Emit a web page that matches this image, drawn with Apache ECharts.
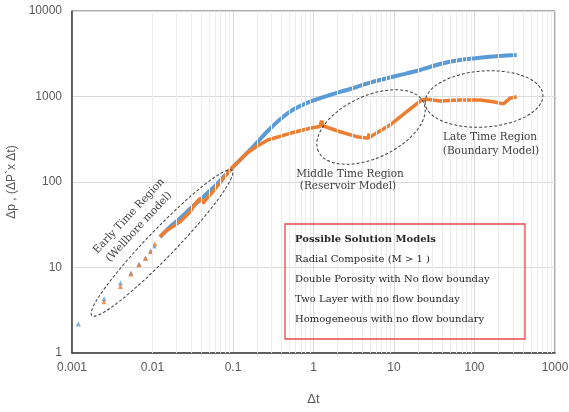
<!DOCTYPE html>
<html>
<head>
<meta charset="utf-8">
<script src="https://cdn.jsdelivr.net/npm/echarts@6/dist/echarts.min.js"></script>
<style>
  html, body { margin: 0; padding: 0; background: #fff; }
  #chart { width: 569px; height: 412px; }
</style>
</head>
<body>
<div id="chart"></div>
<script>
// early, sparse samples (drawn as single triangles)
const blueEarlyX = [0.0012, 0.0025, 0.004, 0.0054, 0.0068, 0.0082, 0.0095, 0.0105]
const blueEarlyY = [2.18, 4.3, 6.6, 8.6, 10.9, 12.9, 15.7, 17.9]
const orangeEarlyX = [0.0025, 0.004, 0.0054, 0.0068, 0.0082, 0.0095, 0.0107]
const orangeEarlyY = [3.98, 6.0, 8.4, 10.8, 12.8, 15.3, 19.0]

// dense part: pressure change (blue)
const blueX = [0.0124, 0.0165, 0.022, 0.0292, 0.0389, 0.0598, 0.0918, 0.163, 0.288, 0.511, 0.905, 1.6, 2.84, 5.53, 14.4, 21, 37.3, 66, 117, 207, 334]
const blueY = [22.7, 29.8, 37.6, 48.3, 61.5, 89.8, 138, 237, 420, 664, 869, 1042, 1224, 1490, 1867, 2042, 2399, 2673, 2845, 2978, 3057]

// dense part: derivative (orange)
const orangeX = [0.0124, 0.0143, 0.0165, 0.022, 0.0292, 0.0337, 0.0389, 0.0424, 0.0598, 0.0918, 0.148, 0.2, 0.27, 0.511, 0.905, 1.2, 1.26, 1.32, 1.6, 2.13, 3.44, 4.8, 4.9, 5.0, 5.53, 8.91, 14.4, 22.1, 25.5, 37.3, 66, 117, 171, 228, 276, 334]
const orangeY = [22.9, 26.2, 28.7, 34.3, 44.6, 55.3, 64.5, 56.8, 82.8, 138, 217, 264, 310, 371, 425, 445, 520, 455, 425, 387, 339, 324, 370, 330, 355, 464, 664, 910, 928, 886, 910, 910, 869, 820, 953, 995]

const boxLines = [
  'Radial Composite (M > 1 )',
  'Double Porosity with No flow bounday',
  'Two Layer with no flow bounday',
  'Homogeneous with no flow boundary'
]

// minor grid lines 2..9 of every decade on x
const minorX = []
for (let d = 0.001; d < 1000; d *= 10) {
  for (let k = 2; k <= 9; k++) minorX.push(+(d * k).toPrecision(3))
}

const pairs = (xs, ys) => xs.map((x, i) => [x, ys[i]])
const fmt = v => String(+Number(v).toPrecision(3))

const serif = 'DejaVu Serif'
const blue = '#5b9bd5'
const orange = '#ed7d31'

const boxText = boxLines.map((t, i) => ({
  type: 'text',
  x: 295,
  y: 259.5 + i * 20,
  z: 10,
  style: { text: t, font: '10px "' + serif + '"', fill: '#262626', textVerticalAlign: 'middle' }
}))

const option = {
  animation: false,
  grid: {
    left: 72, right: 14, top: 11, bottom: 59,
    containLabel: false,
    outerBoundsMode: 'none',
    show: true, borderColor: '#595959', borderWidth: 1
  },
  xAxis: {
    type: 'log',
    logBase: 10,
    min: 0.001,
    max: 1000,
    name: 'Δt',
    nameLocation: 'middle',
    nameGap: 40,
    nameTextStyle: { color: '#595959', fontSize: 13 },
    axisLine: { lineStyle: { color: '#404040', width: 1.5 } },
    axisTick: { show: false },
    axisLabel: { color: '#595959', fontSize: 12, margin: 9, formatter: fmt },
    splitLine: { show: true, lineStyle: { color: '#d9d9d9' } }
  },
  yAxis: {
    type: 'log',
    logBase: 10,
    min: 1,
    max: 10000,
    name: 'Δp , (ΔP`x Δt)',
    nameLocation: 'middle',
    nameGap: 51,
    nameTextStyle: { color: '#595959', fontSize: 12 },
    axisLine: { show: true, lineStyle: { color: '#404040', width: 1.5 } },
    axisTick: { show: false },
    axisLabel: { color: '#595959', fontSize: 12, margin: 10, formatter: fmt },
    splitLine: { show: true, lineStyle: { color: '#d9d9d9' } }
  },
  series: [
    {
      type: 'line',
      data: [],
      z: 1,
      silent: true,
      markLine: {
        silent: true,
        symbol: 'none',
        label: { show: false },
        lineStyle: { color: '#ececec', type: 'solid', width: 1 },
        data: minorX.map(v => ({ xAxis: v }))
      }
    },
    {
      name: 'Δp early',
      type: 'scatter',
      symbol: 'triangle',
      symbolSize: 5,
      itemStyle: { color: blue },
      data: pairs(blueEarlyX, blueEarlyY),
      z: 3
    },
    {
      name: 'Δp',
      type: 'line',
      symbol: 'none',
      smooth: 0.25,
      lineStyle: { color: blue, width: 4 },
      data: pairs(blueX, blueY),
      z: 3
    },
    {
      name: 'deriv early',
      type: 'scatter',
      symbol: 'triangle',
      symbolSize: 5,
      itemStyle: { color: orange },
      data: pairs(orangeEarlyX, orangeEarlyY),
      z: 4
    },
    {
      name: 'deriv',
      type: 'line',
      symbol: 'none',
      lineStyle: { color: orange, width: 3.5 },
      data: pairs(orangeX, orangeY),
      z: 4
    }
  ],
  graphic: [
    // region ellipses
    {
      type: 'ellipse', x: 162, y: 243, rotation: 46 * Math.PI / 180,
      shape: { cx: 0, cy: 0, rx: 101, ry: 14 },
      style: { fill: 'none', stroke: '#404040', lineWidth: 1, lineDash: [3, 2] }, z: 10
    },
    {
      type: 'ellipse', x: 371, y: 127, rotation: 25 * Math.PI / 180,
      shape: { cx: 0, cy: 0, rx: 58, ry: 31 },
      style: { fill: 'none', stroke: '#404040', lineWidth: 1, lineDash: [3, 2] }, z: 10
    },
    {
      type: 'ellipse', x: 484, y: 99, rotation: 4 * Math.PI / 180,
      shape: { cx: 0, cy: 0, rx: 59, ry: 28 },
      style: { fill: 'none', stroke: '#404040', lineWidth: 1, lineDash: [3, 2] }, z: 10
    },
    // region labels
    {
      type: 'text', x: 129, y: 216, rotation: 47 * Math.PI / 180,
      style: { text: 'Early Time Region', font: '10.5px "' + serif + '"', fill: '#404040', textAlign: 'center', textVerticalAlign: 'middle' }, z: 10
    },
    {
      type: 'text', x: 139, y: 227, rotation: 47 * Math.PI / 180,
      style: { text: '(Wellbore model)', font: '10.5px "' + serif + '"', fill: '#404040', textAlign: 'center', textVerticalAlign: 'middle' }, z: 10
    },
    {
      type: 'text', x: 350, y: 174,
      style: { text: 'Middle Time Region', font: '10.5px "' + serif + '"', fill: '#404040', textAlign: 'center', textVerticalAlign: 'middle' }, z: 10
    },
    {
      type: 'text', x: 348, y: 186,
      style: { text: '(Reservoir Model)', font: '10.5px "' + serif + '"', fill: '#404040', textAlign: 'center', textVerticalAlign: 'middle' }, z: 10
    },
    {
      type: 'text', x: 490, y: 137,
      style: { text: 'Late Time Region', font: '10.5px "' + serif + '"', fill: '#404040', textAlign: 'center', textVerticalAlign: 'middle' }, z: 10
    },
    {
      type: 'text', x: 491, y: 151,
      style: { text: '(Boundary Model)', font: '10.5px "' + serif + '"', fill: '#404040', textAlign: 'center', textVerticalAlign: 'middle' }, z: 10
    },
    // solution models box
    {
      type: 'rect',
      shape: { x: 285, y: 224, width: 240, height: 115 },
      style: { fill: 'none', stroke: '#e84a4a', lineWidth: 1.3 }, z: 10
    },
    {
      type: 'text', x: 295, y: 239.5,
      style: { text: 'Possible Solution Models', font: 'bold 10px "' + serif + '"', fill: '#262626', textVerticalAlign: 'middle' }, z: 10
    }
  ].concat(boxText)
}

const chart = echarts.init(document.getElementById('chart'), null, { renderer: 'canvas' })
chart.setOption(option)
</script>
</body>
</html>
